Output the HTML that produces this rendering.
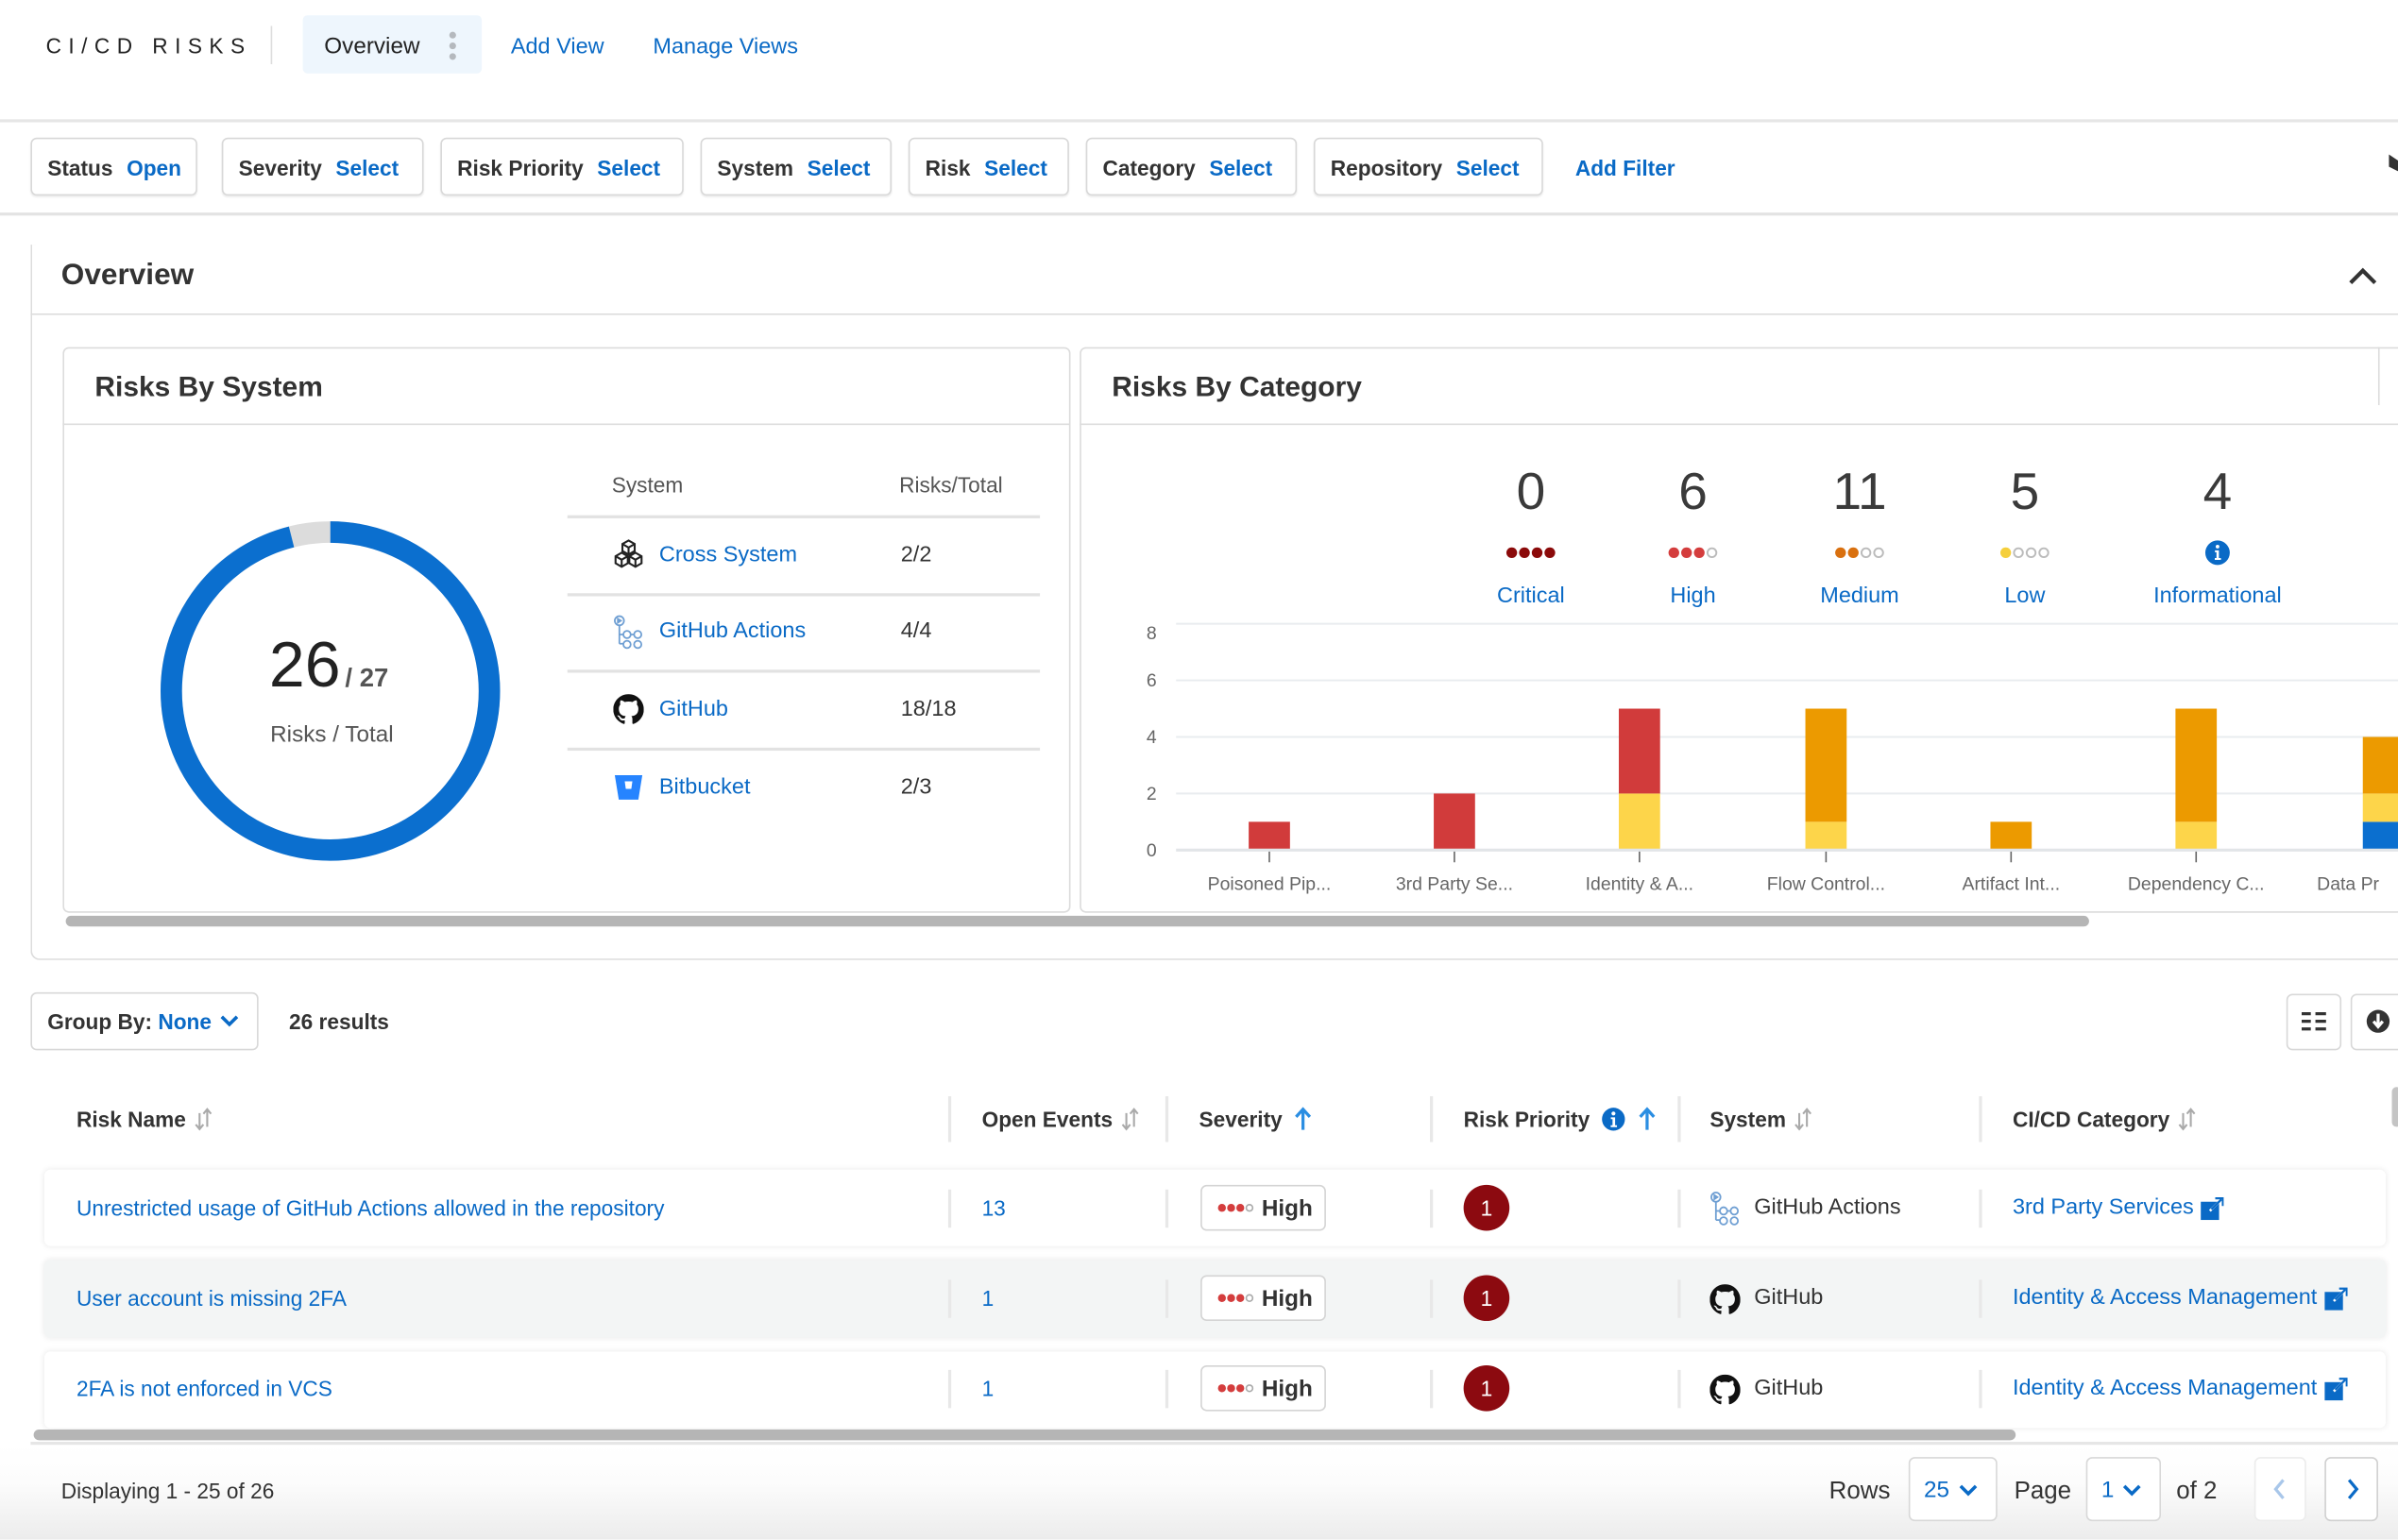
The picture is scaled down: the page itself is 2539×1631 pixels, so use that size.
<!DOCTYPE html>
<html><head><meta charset="utf-8">
<style>
*{box-sizing:border-box}
body{margin:0;width:2539px;height:1631px;overflow:hidden;background:#fff;font-family:"Liberation Sans",Arial,sans-serif;color:#333}
#r{position:absolute;left:0;top:0;width:1568px;height:1007px;transform:scale(1.61926);transform-origin:0 0;overflow:hidden;background:#fff}
.a{position:absolute;white-space:nowrap}
.b{color:#0a6ac6}
.hl{position:absolute;background:#e2e2e2}
.chip{position:absolute;top:90px;height:38px;border:1px solid #d8d8d8;border-radius:4px;box-shadow:0 1px 1px rgba(0,0,0,.07);font-size:14px;font-weight:bold;line-height:38px;padding-left:10px;white-space:nowrap;color:#333}
.chip span{color:#0a6ac6;margin-left:9px}
.th{position:absolute;top:722px;line-height:20px;font-size:14px;font-weight:bold;color:#333;white-space:nowrap;display:flex;align-items:center}
.th svg{margin-left:5px}
.sep{position:absolute;width:2px;background:#e8e8e8}
.row{position:absolute;left:29px;width:1531px;border-radius:4px;box-shadow:0 0 4px rgba(0,0,0,.09)}
.cell{position:absolute;line-height:20px;font-size:14px;white-space:nowrap;display:flex;align-items:center}
.badge{position:absolute;left:785px;width:82px;height:30px;border:1px solid #d4d4d4;border-radius:4px;background:#fff;display:flex;align-items:center;padding-left:10px;font-weight:bold;font-size:15px;color:#333}
.prio{position:absolute;left:957px;width:30px;height:30px;border-radius:50%;background:#8c0a10;color:#fff;font-size:14px;text-align:center;line-height:30px}
.btn{position:absolute;border:1px solid #d8d8d8;border-radius:4px;background:#fff}
</style></head>
<body>
<div id="r">

<!-- header -->
<div class="a" style="left:30px;top:20px;font-size:14px;letter-spacing:4.6px;line-height:20px;color:#222">CI/CD RISKS</div>
<div class="a" style="left:177px;top:17px;width:1px;height:25px;background:#ddd"></div>
<div class="a" style="left:198px;top:10px;width:117px;height:38px;background:#eef6fd;border-radius:3px"></div>
<div class="a" style="left:212px;top:21px;font-size:15px;line-height:20px;color:#222">Overview</div>
<svg class="a" style="left:292px;top:19px" width="8" height="22"><circle cx="4" cy="4" r="2.2" fill="#b5b9be"/><circle cx="4" cy="11" r="2.2" fill="#b5b9be"/><circle cx="4" cy="18" r="2.2" fill="#b5b9be"/></svg>
<div class="a b" style="left:334px;top:21px;font-size:14.5px;line-height:20px">Add View</div>
<div class="a b" style="left:427px;top:21px;font-size:14.5px;line-height:20px">Manage Views</div>
<div class="hl" style="left:0;top:78px;width:1568px;height:2px;background:#e6e6e6"></div>

<!-- filter bar -->
<div class="chip" style="left:20px;width:109px">Status<span>Open</span></div>
<div class="chip" style="left:145px;width:132px">Severity<span>Select</span></div>
<div class="chip" style="left:288px;width:159px">Risk Priority<span>Select</span></div>
<div class="chip" style="left:458px;width:125px">System<span>Select</span></div>
<div class="chip" style="left:594px;width:105px">Risk<span>Select</span></div>
<div class="chip" style="left:710px;width:138px">Category<span>Select</span></div>
<div class="chip" style="left:859px;width:150px">Repository<span>Select</span></div>
<div class="a b" style="left:1030px;top:100px;font-size:14px;font-weight:bold;line-height:20px">Add Filter</div>
<svg class="a" style="left:1562px;top:100px" width="6" height="12"><path d="M0 1L6 5L6 12L0 9Z" fill="#333"/></svg>
<div class="hl" style="left:0;top:139px;width:1568px;height:2px;background:#e3e3e3"></div>

<!-- overview panel -->
<div class="a" style="left:20px;top:160px;width:1600px;height:468px;border-left:1px solid #dcdcdc;border-bottom:1px solid #dcdcdc;border-bottom-left-radius:6px"></div>
<div class="a" style="left:40px;top:168px;font-size:19.5px;font-weight:bold;line-height:24px;color:#333">Overview</div>
<svg class="a" style="left:1535px;top:173px" width="20" height="14"><path d="M2 12L10 4L18 12" stroke="#333" stroke-width="2.6" fill="none"/></svg>
<div class="hl" style="left:20px;top:205px;width:1548px;height:1px;background:#dcdcdc"></div>

<!-- card 1 -->
<div class="a" style="left:41px;top:227px;width:659px;height:370px;border:1px solid #dcdcdc;border-radius:4px"></div>
<div class="hl" style="left:41px;top:277px;width:659px;height:1px;background:#dcdcdc"></div>
<div class="a" style="left:62px;top:241px;font-size:18.5px;font-weight:bold;line-height:24px;color:#333">Risks By System</div>

<!-- card 2 -->
<div class="a" style="left:706px;top:227px;width:900px;height:370px;border:1px solid #dcdcdc;border-radius:4px"></div>
<div class="hl" style="left:706px;top:277px;width:862px;height:1px;background:#dcdcdc"></div>
<div class="a" style="left:1555px;top:227px;width:1px;height:38px;background:#dcdcdc"></div>
<div class="a" style="left:727px;top:241px;font-size:18.5px;font-weight:bold;line-height:24px;color:#333">Risks By Category</div>

<!-- scrollbar cards -->
<div class="a" style="left:43px;top:599px;width:1323px;height:7px;background:#b5b5b5;border-radius:4px"></div>

<!-- donut text -->
<div class="a" style="left:115px;top:410px;width:200px;text-align:center;line-height:50px"><span style="font-size:42px;color:#222">26</span><span style="font-size:17px;font-weight:bold;color:#555;margin-left:3px">/ 27</span></div>
<div class="a" style="left:117px;top:471px;width:200px;text-align:center;font-size:15px;line-height:20px;color:#555">Risks / Total</div>

<!-- system table -->
<div class="a" style="left:400px;top:307px;font-size:14px;line-height:20px;color:#555">System</div>
<div class="a" style="left:588px;top:307px;font-size:14px;line-height:20px;color:#555">Risks/Total</div>
<div class="hl" style="left:371px;top:337px;width:309px;height:1.5px"></div>
<div class="hl" style="left:371px;top:388px;width:309px;height:1.5px"></div>
<div class="hl" style="left:371px;top:438px;width:309px;height:1.5px"></div>
<div class="hl" style="left:371px;top:489px;width:309px;height:1.5px"></div>

<svg class="a" style="left:400px;top:352px" width="22" height="22" viewBox="0 0 22 22" fill="none" stroke="#222" stroke-width="1.3"><path d="M11 1.5l4 2.3v4.6l-4 2.3-4-2.3V3.8z M7 3.8l4 2.3 4-2.3 M11 6.1v4.6"/><path d="M6.5 9.5l4 2.3v4.6l-4 2.3-4-2.3v-4.6z M2.5 11.8l4 2.3 4-2.3 M6.5 14.1v4.6"/><path d="M15.5 9.5l4 2.3v4.6l-4 2.3-4-2.3v-4.6z M11.5 11.8l4 2.3 4-2.3 M15.5 14.1v4.6"/></svg>
<div class="a b" style="left:431px;top:353px;font-size:14.5px;line-height:20px">Cross System</div>
<div class="a" style="left:589px;top:353px;font-size:14.5px;line-height:20px;color:#333">2/2</div>

<svg class="a" style="left:400px;top:402px" width="22" height="24" viewBox="0 0 22 24" fill="none" stroke="#6f9fd3" stroke-width="1.1"><circle cx="5" cy="4" r="3"/><path d="M4 2.7l2 1.3-2 1.3z" fill="#6f9fd3"/><path d="M5 7v12M5 13h2.5M5 19h2.5"/><circle cx="10" cy="13" r="2.4"/><circle cx="17" cy="13" r="2.4"/><circle cx="10" cy="19.5" r="2.4"/><circle cx="17" cy="19.5" r="2.4"/><path d="M12.4 13h2.2"/></svg>
<div class="a b" style="left:431px;top:403px;font-size:14.5px;line-height:20px">GitHub Actions</div>
<div class="a" style="left:589px;top:403px;font-size:14.5px;line-height:20px;color:#333">4/4</div>

<svg class="a" style="left:401px;top:454px" width="20" height="20" viewBox="0 0 16 16"><path fill="#111" d="M8 0C3.58 0 0 3.58 0 8c0 3.54 2.29 6.53 5.47 7.59.4.07.55-.17.55-.38 0-.19-.01-.82-.01-1.49-2.01.37-2.53-.49-2.69-.94-.09-.23-.48-.94-.82-1.13-.28-.15-.68-.52-.01-.53.63-.01 1.08.58 1.23.82.72 1.21 1.87.87 2.33.66.07-.52.28-.87.51-1.07-1.78-.2-3.64-.89-3.640-3.95 0-.87.31-1.59.82-2.15-.08-.2-.36-1.02.08-2.12 0 0 .67-.21 2.2.82.64-.18 1.32-.27 2-.27.68 0 1.36.09 2 .27 1.53-1.04 2.2-.82 2.2-.82.44 1.1.16 1.92.08 2.12.51.56.82 1.27.82 2.15 0 3.07-1.87 3.75-3.65 3.95.29.25.54.73.54 1.48 0 1.07-.01 1.93-.01 2.2 0 .21.15.46.55.38A8.013 8.013 0 0016 8c0-4.42-3.58-8-8-8z"/></svg>
<div class="a b" style="left:431px;top:454px;font-size:14.5px;line-height:20px">GitHub</div>
<div class="a" style="left:589px;top:454px;font-size:14.5px;line-height:20px;color:#333">18/18</div>

<svg class="a" style="left:401px;top:505px" width="20" height="20" viewBox="0 0 20 20"><path d="M1 2h18l-2.6 16H3.6z" fill="#2684ff"/><path d="M7.5 6h5l-.7 5H8.2z" fill="#fff"/></svg>
<div class="a b" style="left:431px;top:505px;font-size:14.5px;line-height:20px">Bitbucket</div>
<div class="a" style="left:589px;top:505px;font-size:14.5px;line-height:20px;color:#333">2/3</div>

<!-- graphics svg -->
<svg class="a" style="left:0;top:0" width="1568" height="1007" font-family="Liberation Sans, Arial, sans-serif">
  <!-- donut -->
  <circle cx="216" cy="452" r="104" fill="none" stroke="#dcdcdc" stroke-width="14"/>
  <circle cx="216" cy="452" r="104" fill="none" stroke="#0b6fcf" stroke-width="14" stroke-dasharray="627.5 30" transform="rotate(-90 216 452)"/>

  <!-- severity summary -->
  <g font-size="34" fill="#3a3a3a" text-anchor="middle">
    <text x="1001" y="333">0</text><text x="1107" y="333">6</text><text x="1216" y="333">11</text><text x="1324" y="333">5</text><text x="1450" y="333">4</text>
  </g>
  <g font-size="14.5" fill="#0a6ac6" text-anchor="middle">
    <text x="1001" y="394">Critical</text><text x="1107" y="394">High</text><text x="1216" y="394">Medium</text><text x="1324" y="394">Low</text><text x="1450" y="394">Informational</text>
  </g>
  <g>
    <circle cx="988.5" cy="361.5" r="3.5" fill="#8b0a0a"/><circle cx="996.8" cy="361.5" r="3.5" fill="#8b0a0a"/><circle cx="1005.1" cy="361.5" r="3.5" fill="#8b0a0a"/><circle cx="1013.4" cy="361.5" r="3.5" fill="#8b0a0a"/>
    <circle cx="1094.5" cy="361.5" r="3.5" fill="#d43d3d"/><circle cx="1102.8" cy="361.5" r="3.5" fill="#d43d3d"/><circle cx="1111.1" cy="361.5" r="3.5" fill="#d43d3d"/><circle cx="1119.4" cy="361.5" r="2.9" fill="none" stroke="#bbb" stroke-width="1.2"/>
    <circle cx="1203.5" cy="361.5" r="3.5" fill="#d9700f"/><circle cx="1211.8" cy="361.5" r="3.5" fill="#d9700f"/><circle cx="1220.1" cy="361.5" r="2.9" fill="none" stroke="#bbb" stroke-width="1.2"/><circle cx="1228.4" cy="361.5" r="2.9" fill="none" stroke="#bbb" stroke-width="1.2"/>
    <circle cx="1311.5" cy="361.5" r="3.5" fill="#f5cf3c"/><circle cx="1319.8" cy="361.5" r="2.9" fill="none" stroke="#bbb" stroke-width="1.2"/><circle cx="1328.1" cy="361.5" r="2.9" fill="none" stroke="#bbb" stroke-width="1.2"/><circle cx="1336.4" cy="361.5" r="2.9" fill="none" stroke="#bbb" stroke-width="1.2"/>
    <circle cx="1450" cy="361.5" r="8" fill="#0a6ac6"/><circle cx="1450" cy="357.5" r="1.2" fill="#fff"/><path d="M1448.3 360h2.6v5h1.3v1.2h-4v-1.2h1.1v-3.8h-1z" fill="#fff"/>
  </g>

  <!-- chart grid -->
  <g stroke="#e9ecef" stroke-width="1.2">
    <line x1="769" y1="408" x2="1568" y2="408"/><line x1="769" y1="445" x2="1568" y2="445"/><line x1="769" y1="482" x2="1568" y2="482"/><line x1="769" y1="519" x2="1568" y2="519"/>
  </g>
  <g font-size="12" fill="#666" text-anchor="middle">
    <text x="753" y="418">8</text><text x="753" y="449">6</text><text x="753" y="486">4</text><text x="753" y="523">2</text><text x="753" y="560">0</text>
  </g>
  <!-- bars -->
  <rect x="816.5" y="537.5" width="27" height="18.5" fill="#d13b3b"/>
  <rect x="937.5" y="519" width="27" height="37" fill="#d13b3b"/>
  <rect x="1058.5" y="519" width="27" height="37" fill="#fdd54a"/>
  <rect x="1058.5" y="463.5" width="27" height="55.5" fill="#d13b3b"/>
  <rect x="1180.5" y="537.5" width="27" height="18.5" fill="#fdd54a"/>
  <rect x="1180.5" y="463.5" width="27" height="74" fill="#ec9a00"/>
  <rect x="1301.5" y="537.5" width="27" height="18.5" fill="#ec9a00"/>
  <rect x="1422.5" y="537.5" width="27" height="18.5" fill="#fdd54a"/>
  <rect x="1422.5" y="463.5" width="27" height="74" fill="#ec9a00"/>
  <rect x="1545" y="537.5" width="27" height="18.5" fill="#0b6fcf"/>
  <rect x="1545" y="519" width="27" height="18.5" fill="#fdd54a"/>
  <rect x="1545" y="482" width="27" height="37" fill="#ec9a00"/>
  <line x1="769" y1="556" x2="1568" y2="556" stroke="#e2e5e8" stroke-width="2"/>
  <g stroke="#666" stroke-width="1">
    <line x1="830" y1="557" x2="830" y2="564"/><line x1="951" y1="557" x2="951" y2="564"/><line x1="1072" y1="557" x2="1072" y2="564"/><line x1="1194" y1="557" x2="1194" y2="564"/><line x1="1315" y1="557" x2="1315" y2="564"/><line x1="1436" y1="557" x2="1436" y2="564"/>
  </g>
  <g font-size="12" fill="#666" text-anchor="middle">
    <text x="830" y="582">Poisoned Pip...</text><text x="951" y="582">3rd Party Se...</text><text x="1072" y="582">Identity &amp; A...</text><text x="1194" y="582">Flow Control...</text><text x="1315" y="582">Artifact Int...</text><text x="1436" y="582">Dependency C...</text>
  </g>
  <text x="1515" y="582" font-size="12" fill="#666">Data Pr</text>
</svg>

<!-- group by -->
<div class="btn" style="left:20px;top:649px;width:149px;height:38px"></div>
<div class="a" style="left:31px;top:658px;font-size:14px;font-weight:bold;line-height:20px;color:#333">Group By: <span class="b">None</span></div>
<svg class="a" style="left:143px;top:662px" width="14" height="12"><path d="M2 3l5 5 5-5" stroke="#0a6ac6" stroke-width="2.2" fill="none"/></svg>
<div class="a" style="left:189px;top:658px;font-size:14px;font-weight:bold;line-height:20px;color:#333">26 results</div>

<div class="btn" style="left:1495px;top:650px;width:36px;height:37px"></div>
<svg class="a" style="left:1505px;top:661px" width="16" height="14"><g stroke="#333" stroke-width="2"><path d="M0 2h6M0 7h6M0 12h6M9 2h7M9 7h7M9 12h7"/></g></svg>
<div class="btn" style="left:1537px;top:650px;width:36px;height:37px"></div>
<svg class="a" style="left:1547px;top:660px" width="16" height="16"><circle cx="8" cy="8" r="7.5" fill="#333"/><path d="M8 3v7M5 8l3 3.5 3-3.5" stroke="#fff" stroke-width="2" fill="none"/></svg>
<div class="a" style="left:1564px;top:711px;width:6px;height:26px;background:#c4c4c4;border-radius:3px"></div>

<!-- table header -->
<div class="th" style="left:50px">Risk Name<svg width="12" height="16" viewBox="0 0 12 16"><path d="M3.5 4v10M1 11.5l2.5 3 2.5-3" stroke="#aaa" fill="none" stroke-width="1.3"/><path d="M8.5 13V2M6 4.5l2.5-3 2.5 3" stroke="#aaa" fill="none" stroke-width="1.3"/></svg></div>
<div class="th" style="left:642px">Open Events<svg width="12" height="16" viewBox="0 0 12 16"><path d="M3.5 4v10M1 11.5l2.5 3 2.5-3" stroke="#aaa" fill="none" stroke-width="1.3"/><path d="M8.5 13V2M6 4.5l2.5-3 2.5 3" stroke="#aaa" fill="none" stroke-width="1.3"/></svg></div>
<div class="th" style="left:784px">Severity<svg width="12" height="16" viewBox="0 0 12 16" style="margin-left:8px"><path d="M6 15V2M1.5 6.5L6 1.5l4.5 5" stroke="#2b8ee2" fill="none" stroke-width="2"/></svg></div>
<div class="th" style="left:957px">Risk Priority<svg width="16" height="16" viewBox="0 0 16 16" style="margin-left:8px"><circle cx="8" cy="8" r="7.5" fill="#0a6ac6"/><circle cx="8" cy="4.3" r="1.3" fill="#fff"/><path d="M6.3 6.8h2.8v5.2h1.2v1.2H6.2V12h1.2V8H6.3z" fill="#fff"/></svg><svg width="12" height="16" viewBox="0 0 12 16" style="margin-left:8px"><path d="M6 15V2M1.5 6.5L6 1.5l4.5 5" stroke="#2b8ee2" fill="none" stroke-width="2"/></svg></div>
<div class="th" style="left:1118px">System<svg width="12" height="16" viewBox="0 0 12 16"><path d="M3.5 4v10M1 11.5l2.5 3 2.5-3" stroke="#aaa" fill="none" stroke-width="1.3"/><path d="M8.5 13V2M6 4.5l2.5-3 2.5 3" stroke="#aaa" fill="none" stroke-width="1.3"/></svg></div>
<div class="th" style="left:1316px">CI/CD Category<svg width="12" height="16" viewBox="0 0 12 16"><path d="M3.5 4v10M1 11.5l2.5 3 2.5-3" stroke="#aaa" fill="none" stroke-width="1.3"/><path d="M8.5 13V2M6 4.5l2.5-3 2.5 3" stroke="#aaa" fill="none" stroke-width="1.3"/></svg></div>
<div class="sep" style="left:620px;top:717px;height:30px"></div>
<div class="sep" style="left:762px;top:717px;height:30px"></div>
<div class="sep" style="left:935px;top:717px;height:30px"></div>
<div class="sep" style="left:1097px;top:717px;height:30px"></div>
<div class="sep" style="left:1294px;top:717px;height:30px"></div>

<!-- rows -->
<div class="row" style="top:765px;height:50px;background:#fff"></div>
<div class="row" style="top:824px;height:51px;background:#f3f5f5"></div>
<div class="row" style="top:884px;height:50px;background:#fff"></div>

<!-- row separators -->
<div class="sep" style="left:620px;top:778px;height:25px"></div><div class="sep" style="left:762px;top:778px;height:25px"></div><div class="sep" style="left:935px;top:778px;height:25px"></div><div class="sep" style="left:1097px;top:778px;height:25px"></div><div class="sep" style="left:1294px;top:778px;height:25px"></div>
<div class="sep" style="left:620px;top:837px;height:25px"></div><div class="sep" style="left:762px;top:837px;height:25px"></div><div class="sep" style="left:935px;top:837px;height:25px"></div><div class="sep" style="left:1097px;top:837px;height:25px"></div><div class="sep" style="left:1294px;top:837px;height:25px"></div>
<div class="sep" style="left:620px;top:896px;height:25px"></div><div class="sep" style="left:762px;top:896px;height:25px"></div><div class="sep" style="left:935px;top:896px;height:25px"></div><div class="sep" style="left:1097px;top:896px;height:25px"></div><div class="sep" style="left:1294px;top:896px;height:25px"></div>

<!-- row 1 -->
<div class="cell b" style="left:50px;top:780px">Unrestricted usage of GitHub Actions allowed in the repository</div>
<div class="cell b" style="left:642px;top:780px">13</div>
<div class="badge" style="top:775px"><svg width="26" height="8"><circle cx="3" cy="4" r="2.6" fill="#d43d3d"/><circle cx="9" cy="4" r="2.6" fill="#d43d3d"/><circle cx="15" cy="4" r="2.6" fill="#d43d3d"/><circle cx="21" cy="4" r="2.1" fill="none" stroke="#aaa" stroke-width="1"/></svg><span style="margin-left:3px">High</span></div>
<div class="prio" style="top:775px">1</div>
<svg class="a" style="left:1117px;top:779px" width="22" height="24" viewBox="0 0 22 24" fill="none" stroke="#6f9fd3" stroke-width="1.1"><circle cx="5" cy="4" r="3"/><path d="M4 2.7l2 1.3-2 1.3z" fill="#6f9fd3"/><path d="M5 7v12M5 13h2.5M5 19h2.5"/><circle cx="10" cy="13" r="2.4"/><circle cx="17" cy="13" r="2.4"/><circle cx="10" cy="19.5" r="2.4"/><circle cx="17" cy="19.5" r="2.4"/><path d="M12.4 13h2.2"/></svg>
<div class="cell" style="left:1147px;top:780px;color:#333;font-size:14.5px">GitHub Actions</div>
<div class="cell b" style="left:1316px;top:780px;font-size:14.5px">3rd Party Services<svg width="15" height="15" viewBox="0 0 15 15" style="margin-left:5px"><rect x="0" y="3" width="12" height="12" fill="#0a6ac6"/><path d="M6 9L13 2M9 1.5h4.5V6" stroke="#fff" stroke-width="1.6" fill="none"/><path d="M7 8L13.5 1.5M9.5 0.8h5v5" stroke="#0a6ac6" stroke-width="1.4" fill="none"/></svg></div>

<!-- row 2 -->
<div class="cell b" style="left:50px;top:839px">User account is missing 2FA</div>
<div class="cell b" style="left:642px;top:839px">1</div>
<div class="badge" style="top:834px"><svg width="26" height="8"><circle cx="3" cy="4" r="2.6" fill="#d43d3d"/><circle cx="9" cy="4" r="2.6" fill="#d43d3d"/><circle cx="15" cy="4" r="2.6" fill="#d43d3d"/><circle cx="21" cy="4" r="2.1" fill="none" stroke="#aaa" stroke-width="1"/></svg><span style="margin-left:3px">High</span></div>
<div class="prio" style="top:834px">1</div>
<svg class="a" style="left:1118px;top:840px" width="20" height="20" viewBox="0 0 16 16"><path fill="#111" d="M8 0C3.58 0 0 3.58 0 8c0 3.54 2.29 6.53 5.47 7.59.4.07.55-.17.55-.38 0-.19-.01-.82-.01-1.49-2.01.37-2.53-.49-2.69-.94-.09-.23-.48-.94-.82-1.13-.28-.15-.68-.52-.01-.53.63-.01 1.08.58 1.23.82.72 1.21 1.87.87 2.33.66.07-.52.28-.87.51-1.07-1.78-.2-3.64-.89-3.64-3.95 0-.87.31-1.59.82-2.15-.08-.2-.36-1.02.08-2.12 0 0 .67-.21 2.2.82.64-.18 1.32-.27 2-.27.68 0 1.36.09 2 .27 1.53-1.04 2.2-.82 2.2-.82.44 1.1.16 1.92.08 2.12.51.56.82 1.27.82 2.15 0 3.07-1.87 3.75-3.65 3.95.29.25.54.73.54 1.48 0 1.07-.01 1.93-.01 2.2 0 .21.15.46.55.38A8.013 8.013 0 0016 8c0-4.42-3.58-8-8-8z"/></svg>
<div class="cell" style="left:1147px;top:839px;color:#333;font-size:14.5px">GitHub</div>
<div class="cell b" style="left:1316px;top:839px;font-size:14.5px">Identity &amp; Access Management<svg width="15" height="15" viewBox="0 0 15 15" style="margin-left:5px"><rect x="0" y="3" width="12" height="12" fill="#0a6ac6"/><path d="M6 9L13 2M9 1.5h4.5V6" stroke="#fff" stroke-width="1.6" fill="none"/><path d="M7 8L13.5 1.5M9.5 0.8h5v5" stroke="#0a6ac6" stroke-width="1.4" fill="none"/></svg></div>

<!-- row 3 -->
<div class="cell b" style="left:50px;top:898px">2FA is not enforced in VCS</div>
<div class="cell b" style="left:642px;top:898px">1</div>
<div class="badge" style="top:893px"><svg width="26" height="8"><circle cx="3" cy="4" r="2.6" fill="#d43d3d"/><circle cx="9" cy="4" r="2.6" fill="#d43d3d"/><circle cx="15" cy="4" r="2.6" fill="#d43d3d"/><circle cx="21" cy="4" r="2.1" fill="none" stroke="#aaa" stroke-width="1"/></svg><span style="margin-left:3px">High</span></div>
<div class="prio" style="top:893px">1</div>
<svg class="a" style="left:1118px;top:899px" width="20" height="20" viewBox="0 0 16 16"><path fill="#111" d="M8 0C3.58 0 0 3.58 0 8c0 3.54 2.29 6.53 5.47 7.59.4.07.55-.17.55-.38 0-.19-.01-.82-.01-1.49-2.01.37-2.53-.49-2.69-.94-.09-.23-.48-.94-.82-1.13-.28-.15-.68-.52-.01-.53.63-.01 1.08.58 1.23.82.72 1.21 1.87.87 2.33.66.07-.52.28-.87.51-1.07-1.78-.2-3.64-.89-3.64-3.95 0-.87.31-1.59.82-2.15-.08-.2-.36-1.02.08-2.12 0 0 .67-.21 2.2.82.64-.18 1.32-.27 2-.27.68 0 1.36.09 2 .27 1.53-1.04 2.2-.82 2.2-.82.44 1.1.16 1.92.08 2.12.51.56.82 1.27.82 2.15 0 3.07-1.87 3.75-3.65 3.95.29.25.54.73.54 1.48 0 1.07-.01 1.93-.01 2.2 0 .21.15.46.55.38A8.013 8.013 0 0016 8c0-4.42-3.58-8-8-8z"/></svg>
<div class="cell" style="left:1147px;top:898px;color:#333;font-size:14.5px">GitHub</div>
<div class="cell b" style="left:1316px;top:898px;font-size:14.5px">Identity &amp; Access Management<svg width="15" height="15" viewBox="0 0 15 15" style="margin-left:5px"><rect x="0" y="3" width="12" height="12" fill="#0a6ac6"/><path d="M6 9L13 2M9 1.5h4.5V6" stroke="#fff" stroke-width="1.6" fill="none"/><path d="M7 8L13.5 1.5M9.5 0.8h5v5" stroke="#0a6ac6" stroke-width="1.4" fill="none"/></svg></div>

<!-- table scrollbar -->
<div class="a" style="left:22px;top:935px;width:1296px;height:7px;background:#b5b5b5;border-radius:4px"></div>
<div class="a" style="left:0;top:945px;width:1568px;height:62px;background:linear-gradient(#ffffff 0%,#fcfcfc 40%,#ececec 100%)"></div>
<div class="hl" style="left:20px;top:943px;width:1548px;height:2px;background:#e6e6e6"></div>

<!-- footer -->
<div class="a" style="left:40px;top:965px;font-size:14px;line-height:20px;color:#333">Displaying 1 - 25 of 26</div>
<div class="a" style="left:1196px;top:966px;font-size:16px;line-height:20px;color:#333">Rows</div>
<div class="btn" style="left:1248px;top:953px;width:58px;height:42px"></div>
<div class="a b" style="left:1258px;top:965px;font-size:15px;line-height:20px">25</div>
<svg class="a" style="left:1280px;top:969px" width="14" height="12"><path d="M2 3l5 5 5-5" stroke="#0a6ac6" stroke-width="2.2" fill="none"/></svg>
<div class="a" style="left:1317px;top:966px;font-size:16px;line-height:20px;color:#333">Page</div>
<div class="btn" style="left:1364px;top:953px;width:49px;height:42px"></div>
<div class="a b" style="left:1374px;top:965px;font-size:15px;line-height:20px">1</div>
<svg class="a" style="left:1387px;top:969px" width="14" height="12"><path d="M2 3l5 5 5-5" stroke="#0a6ac6" stroke-width="2.2" fill="none"/></svg>
<div class="a" style="left:1423px;top:966px;font-size:16px;line-height:20px;color:#333">of 2</div>
<div class="btn" style="left:1474px;top:953px;width:34px;height:42px;border-color:#ececec"></div>
<svg class="a" style="left:1485px;top:966px" width="12" height="16"><path d="M8 2L3 8l5 6" stroke="#a9c7ea" stroke-width="2" fill="none"/></svg>
<div class="btn" style="left:1520px;top:953px;width:35px;height:42px;border-color:#d0d0d0"></div>
<svg class="a" style="left:1532px;top:966px" width="12" height="16"><path d="M4 2l5 6-5 6" stroke="#0a6ac6" stroke-width="2" fill="none"/></svg>

</div>
</body></html>
